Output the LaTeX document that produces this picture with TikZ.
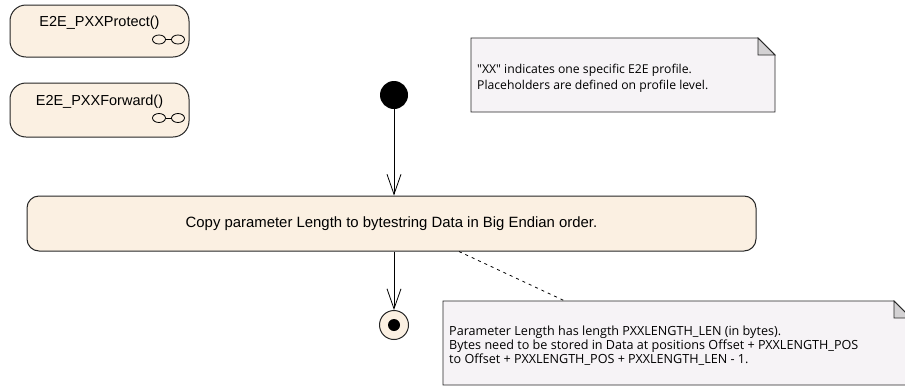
\documentclass[tikz,border=0pt]{standalone}
\usepackage{fontspec}
\setmainfont{Liberation Sans}
\newfontfamily\notefont{Open Sans}
\usetikzlibrary{arrows.meta}
\usetikzlibrary{calc}

\definecolor{actfill}{HTML}{FBF0E2}
\definecolor{notefill}{HTML}{F6F3F6}
\definecolor{earfill}{HTML}{D3D1D3}
\definecolor{edgecol}{HTML}{262626}

\tikzset{
	callbox/.style={draw=edgecol,fill=actfill,line width=1pt,rounded corners=16pt,inner sep=0pt},
	actbox/.style={draw=edgecol,fill=actfill,line width=1pt,rounded corners=12pt,inner sep=0pt},
	notebox/.style={inner sep=6pt,align=left,anchor=west},
	flow/.style={line width=0.8pt,-{Straight Barb[length=20pt,width=14pt,line width=0.8pt]}},
	anchorline/.style={line width=0.8pt,dash pattern=on 3pt off 4pt}
}

\begin{document}
\begin{tikzpicture}[x=1pt,y=-1pt]
\clip (0,0) rectangle (905,386);
\useasboundingbox (0,0) rectangle (905,386);

% called behaviours
\node[callbox,minimum width=179pt,minimum height=52pt] (prot) at (99.5,31) {};
\node[font=\fontsize{14.5}{16}\selectfont] (protlbl) at (99.5,23) {E2E\_PXXProtect()};
\node[callbox,minimum width=179pt,minimum height=54pt] (fwd) at (99.5,110) {};
\node[font=\fontsize{14.5}{16}\selectfont] (fwdlbl) at (99.5,102) {E2E\_PXXForward()};
\foreach \y in {39.5,118}
{
	\draw[line width=0.8pt] (159,\y) ellipse (6.5 and 4.5);
	\draw[line width=0.8pt] (178,\y) ellipse (6.5 and 4.5);
	\draw[line width=0.8pt] (165.5,\y) -- (171.5,\y);
}

% activity
\node[circle,fill=black,minimum size=28pt,inner sep=0pt] (start) at (394,95) {};
\node[actbox,minimum width=729pt,minimum height=55pt,font=\fontsize{14.9}{17}\selectfont] (copy) at (391.5,223.5) {Copy parameter Length to bytestring Data in Big Endian order.};
\node[circle,draw=edgecol,fill=actfill,line width=1pt,minimum size=29pt,inner sep=0pt] (final) at (394,325) {};
\node[circle,fill=black,minimum size=12pt,inner sep=0pt] (finaldot) at (final) {};

\draw[flow] (start.south) -- (start.south |- copy.north);
\draw[flow] (copy.south -| final) -- (final.north);

% notes
\coordinate (n1nw) at (471,38);
\coordinate (n1se) at (775,112);
\draw[draw=edgecol,fill=notefill,line width=0.8pt] (n1nw) -- ($(n1nw -| n1se)+(-17,0)$) -- ++(17,17) -- (n1se) -- (n1nw |- n1se) -- cycle;
\draw[draw=edgecol,fill=earfill,line width=0.8pt] ($(n1nw -| n1se)+(-17,0)$) -- ++(17,17) -- ++(-17,0) -- cycle;
\node[notebox,font=\notefont\fontsize{12.2}{16.5}\selectfont] (note1) at (471,78.5) {"XX" indicates one specific E2E profile.\\Placeholders are defined on profile level.};

\coordinate (n2nw) at (443,301);
\coordinate (n2se) at (911,385);
\draw[draw=edgecol,fill=notefill,line width=0.8pt] (n2nw) -- ($(n2nw -| n2se)+(-17,0)$) -- ++(17,17) -- (n2se) -- (n2nw |- n2se) -- cycle;
\draw[draw=edgecol,fill=earfill,line width=0.8pt] ($(n2nw -| n2se)+(-17,0)$) -- ++(17,17) -- ++(-17,0) -- cycle;
\node[notebox,font=\notefont\fontsize{12.6}{14}\selectfont] (note2) at (443,346) {Parameter Length has length PXXLENGTH\_LEN (in bytes).\\Bytes need to be stored in Data at positions Offset + PXXLENGTH\_POS\\to Offset + PXXLENGTH\_POS + PXXLENGTH\_LEN - 1.};

\coordinate (n2top) at (565,301);
\draw[anchorline] (copy.south -| 459,0) -- (n2top);

\end{tikzpicture}
\end{document}
